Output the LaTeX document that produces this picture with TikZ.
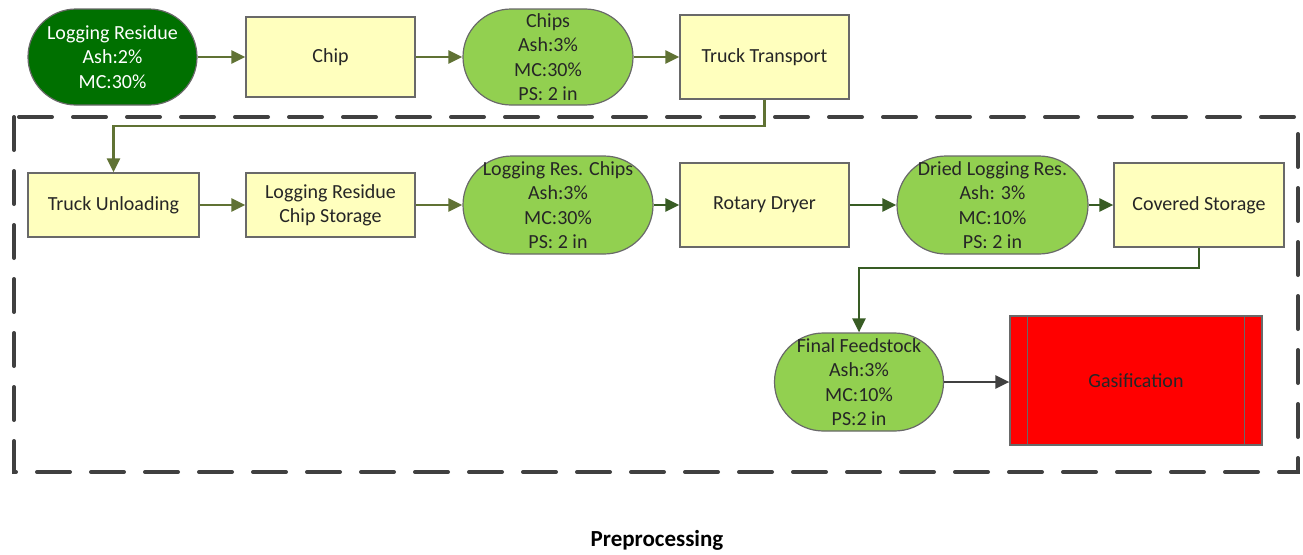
\documentclass[tikz,border=0pt]{standalone}
\usepackage{fontspec}
\setmainfont{Carlito}
\usetikzlibrary{arrows.meta}
\definecolor{dkgreen}{RGB}{0,112,0}
\definecolor{lgreen}{RGB}{146,208,80}
\definecolor{boxyellow}{RGB}{255,255,190}
\definecolor{boxline}{RGB}{105,105,105}
\definecolor{olivearr}{RGB}{96,114,52}
\definecolor{dkarr}{RGB}{56,92,36}
\definecolor{grayarr}{RGB}{64,64,64}
\definecolor{dashcol}{RGB}{64,64,64}
\definecolor{gasred}{RGB}{255,0,0}
\begin{document}
\begin{tikzpicture}[x=1pt,y=-1pt,
  font=\fontsize{20}{24.4}\selectfont,
  every node/.style={inner sep=0pt, align=center},
  box/.style={draw=boxline, line width=1.2pt, fill=boxyellow, text=black!85},
  stadium/.style={draw=boxline, line width=1.2pt, fill=lgreen, text=black!85},
  darkstadium/.style={draw=boxline, line width=1.2pt, fill=dkgreen, text=white},
  flow/.style={line width=2.6pt, -{Triangle[length=14pt,width=13pt]}},
  oflow/.style={flow, draw=olivearr},
  dflow/.style={flow, draw=dkarr},
  gflow/.style={flow, draw=grayarr},
  border/.style={draw=dashcol, line width=4pt, dash pattern=on 33pt off 21pt, line cap=round}
]
\useasboundingbox (0,0) rectangle (1303,554);

% group border
\draw[border] (14,117) rectangle (1298,472);

% top row
\node[darkstadium, minimum width=169pt, minimum height=96pt, rounded corners=48pt] (lr) at (112.5,57)
  {Logging Residue\\Ash:2\%\\MC:30\%};
\node[box, minimum width=169pt, minimum height=80pt] (chip) at (330.5,57) {Chip};
\node[stadium, minimum width=170pt, minimum height=96pt, rounded corners=48pt] (chips) at (548,57)
  {Chips\\Ash:3\%\\MC:30\%\\PS: 2 in};
\node[box, minimum width=169pt, minimum height=84pt] (tt) at (764.5,57) {Truck Transport};

% second row
\node[box, minimum width=171pt, minimum height=64pt] (tu) at (113.5,205) {Truck Unloading};
\node[box, minimum width=169pt, minimum height=64pt] (lcs) at (330.5,205) {Logging Residue\\Chip Storage};
\node[stadium, minimum width=190pt, minimum height=98pt, rounded corners=49pt] (lrc) at (558,205)
  {Logging Res. Chips\\Ash:3\%\\MC:30\%\\PS: 2 in};
\node[box, minimum width=169pt, minimum height=84pt] (rd) at (764.5,205) {Rotary Dryer};
\node[stadium, minimum width=191pt, minimum height=98pt, rounded corners=49pt] (dlr) at (992.5,205)
  {Dried Logging Res.\\Ash: 3\%\\MC:10\%\\PS: 2 in};
\node[box, minimum width=170pt, minimum height=84pt] (cs) at (1199,205) {Covered Storage};

% third row
\node[stadium, minimum width=169pt, minimum height=98pt, rounded corners=49pt] (ff) at (859,382)
  {Final Feedstock\\Ash:3\%\\MC:10\%\\PS:2 in};
\node[draw=boxline, line width=1.2pt, fill=gasred, text=black!85, minimum width=252pt, minimum height=129pt] (gas) at (1136,380.5) {Gasification};
\draw[boxline, line width=1.2pt] ([xshift=18pt]gas.north west) -- ([xshift=18pt]gas.south west);
\draw[boxline, line width=1.2pt] ([xshift=-18pt]gas.north east) -- ([xshift=-18pt]gas.south east);

% connectors
\draw[oflow] (lr) -- (chip);
\draw[oflow] (chip) -- (chips);
\draw[oflow] (chips) -- (tt);
\draw[oflow] (tt.south) -- (tt.south |- 0,126) -| (tu.north);
\draw[oflow] (tu) -- (lcs);
\draw[oflow] (lcs) -- (lrc);
\draw[dflow] (lrc) -- (rd);
\draw[dflow] (rd) -- (dlr);
\draw[dflow] (dlr) -- (cs);
\draw[dflow] (cs.south) -- (cs.south |- 0,268) -| (ff.north);
\draw[gflow] (ff.east |- 0,382) -- (gas.west |- 0,382);

% caption
\node[font=\fontsize{23}{28}\selectfont\bfseries] (cap) at (657,540) {Preprocessing};
\end{tikzpicture}
\end{document}
